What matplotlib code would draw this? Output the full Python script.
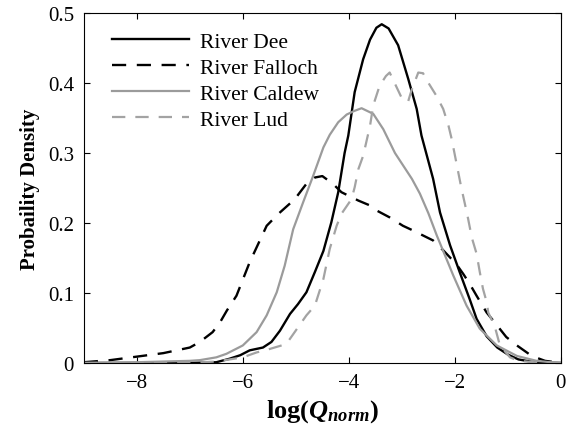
import matplotlib
matplotlib.use("Agg")
import matplotlib.pyplot as plt

plt.rcParams['font.family'] = ['Liberation Serif', 'DejaVu Serif']
plt.rcParams['mathtext.fontset'] = 'custom'
plt.rcParams['mathtext.it'] = 'Liberation Serif:italic:bold'
plt.rcParams['mathtext.rm'] = 'Liberation Serif:bold'

# River Dee (black solid)
dee_x = [-9, -7, -6.5, -6.25, -6.05, -5.87, -5.62, -5.46, -5.3, -5.11, -4.96, -4.8,
         -4.64, -4.48, -4.33, -4.2, -4.08, -4.01, -3.89, -3.73, -3.6, -3.48, -3.38,
         -3.25, -3.07, -2.88, -2.72, -2.63, -2.41, -2.28, -2.09, -1.91, -1.72, -1.59,
         -1.4, -1.2, -1.0, -0.8, -0.5, 0]
dee_y = [0, 0, 0.001, 0.006, 0.011, 0.018, 0.022, 0.03, 0.046, 0.07, 0.084, 0.101,
         0.13, 0.16, 0.201, 0.244, 0.3, 0.325, 0.387, 0.434, 0.462, 0.479, 0.484,
         0.478, 0.454, 0.406, 0.363, 0.325, 0.263, 0.215, 0.168, 0.13, 0.091, 0.063,
         0.038, 0.022, 0.012, 0.005, 0.001, 0]

# River Falloch (black dashed)
fal_x = [-9, -8.5, -8, -7.5, -7, -6.81, -6.57, -6.43, -6.3, -6.12, -5.87, -5.55, -5.33,
         -5.02, -4.8, -4.64, -4.5, -4.3, -4.14, -3.82, -3.6, -3.48, -3.23, -2.98, -2.81,
         -2.41, -2.22, -1.97, -1.84, -1.72, -1.59, -1.4, -1.25, -1.03, -0.83, -0.55,
         -0.3, 0]
fal_y = [0.001, 0.004, 0.009, 0.014, 0.022, 0.03, 0.044, 0.058, 0.075, 0.096, 0.144,
         0.196, 0.213, 0.234, 0.256, 0.265, 0.267, 0.256, 0.244, 0.232, 0.225, 0.218,
         0.208, 0.196, 0.19, 0.175, 0.161, 0.141, 0.127, 0.113, 0.096, 0.072, 0.058,
         0.037, 0.025, 0.01, 0.003, 0]

# River Caldew (grey solid)
cal_x = [-9, -8, -7.5, -7, -6.81, -6.5, -6.31, -6.0, -5.74, -5.55, -5.36, -5.21, -5.05,
         -4.86, -4.67, -4.48, -4.36, -4.2, -4.04, -3.9, -3.76, -3.54, -3.35, -3.13, -2.81,
         -2.66, -2.5, -2.34, -2.03, -1.78, -1.53, -1.21, -0.83, -0.46, -0.2, 0]
cal_y = [0, 0.001, 0.002, 0.003, 0.004, 0.008, 0.013, 0.025, 0.044, 0.068, 0.101, 0.139,
         0.191, 0.23, 0.268, 0.308, 0.326, 0.344, 0.355, 0.36, 0.364, 0.356, 0.334, 0.3,
         0.263, 0.242, 0.214, 0.182, 0.125, 0.082, 0.049, 0.025, 0.01, 0.003, 0.001, 0]

# River Lud (grey dashed)
lud_x = [-9, -7, -6.5, -6.0, -5.74, -5.49, -5.18, -5.05, -4.8, -4.64, -4.48, -4.36, -4.23,
         -4.14, -3.95, -3.89, -3.82, -3.73, -3.6, -3.54, -3.42, -3.3, -3.23, -3.13, -2.98,
         -2.88, -2.82, -2.69, -2.6, -2.53, -2.35, -2.22, -2.12, -2.06, -1.88, -1.81, -1.75,
         -1.68, -1.59, -1.53, -1.47, -1.4, -1.37, -1.25, -1.15, -0.96, -0.8, -0.5, 0]
lud_y = [0, 0, 0.002, 0.008, 0.015, 0.02, 0.027, 0.041, 0.068, 0.082, 0.12, 0.163, 0.196,
         0.213, 0.234, 0.251, 0.277, 0.296, 0.339, 0.368, 0.396, 0.41, 0.415, 0.399, 0.375,
         0.374, 0.389, 0.415, 0.414, 0.404, 0.382, 0.363, 0.339, 0.32, 0.251, 0.227, 0.206,
         0.179, 0.156, 0.13, 0.106, 0.087, 0.072, 0.053, 0.025, 0.008, 0.003, 0.001, 0]

xticks = [-8, -6, -4, -2, 0]
yticks = [0, 0.1, 0.2, 0.3, 0.4, 0.5]
ytick_labels = ['0', '0.1', '0.2', '0.3', '0.4', '0.5']

fig = plt.figure(figsize=(5.7, 4.39), dpi=100)
ax = fig.add_axes([0.147, 0.171, 0.837, 0.797])

grey = '#9b9b9b'
ax.plot(dee_x, dee_y, color='black', lw=1.7, label='River Dee')
ax.plot(fal_x, fal_y, color='black', lw=1.7, dashes=(6, 4.5), label='River Falloch')
ax.plot(cal_x, cal_y, color=grey, lw=1.6, label='River Caldew')
ax.plot(lud_x, lud_y, color='#a3a3a3', lw=1.6, dashes=(6, 4.5), label='River Lud')

ax.set_xlim(-9, 0)
ax.set_ylim(0, 0.5)
ax.set_xticks(xticks)
ax.set_yticks(yticks)
ax.set_yticklabels(ytick_labels)
ax.tick_params(direction='in', top=True, right=True, length=4, width=0.8,
               labelsize=15, pad=7)
for s in ax.spines.values():
    s.set_linewidth(0.8)

ax.set_ylabel('Probaility Density', fontsize=15, fontweight='bold', labelpad=6)
ax.set_xlabel(r'log($\mathit{Q}_{\mathit{norm}}$)', fontsize=19, fontweight='bold',
              labelpad=4)

ax.legend(loc='upper left', bbox_to_anchor=(0.059, 0.947), frameon=False, fontsize=15.5,
          handlelength=3.6, handletextpad=0.5, labelspacing=0.28, borderpad=0,
          borderaxespad=0)

fig.savefig('out.png', dpi=100)
